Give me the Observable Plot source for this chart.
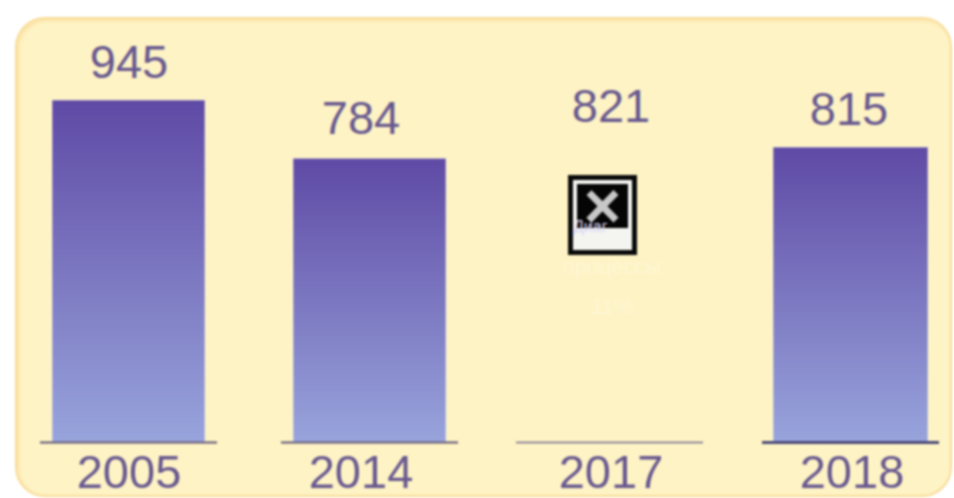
<!DOCTYPE html>
<html><head><meta charset="utf-8">
<script src="https://cdn.jsdelivr.net/npm/d3@7"></script>
<script src="https://cdn.jsdelivr.net/npm/@observablehq/plot@0.6"></script>
<style>
html,body{margin:0;padding:0;background:#fff;overflow:hidden}
#stage{position:relative;width:954px;height:498px;overflow:hidden;filter:blur(.8px)}
#panel{position:absolute;left:15px;top:17px;width:937px;height:480px;box-sizing:border-box;background:#fef3c4;border:2px solid #f9dc98;border-radius:30px;box-shadow:inset 2px 2px 3px #fbe3a6}
#chart{position:absolute;left:0;top:0}
#chart svg{background:transparent}
#icon{position:absolute;left:568px;top:175px;width:69px;height:80px;box-sizing:border-box;background:#0a0a0a;padding:5px}
#icon .in{position:relative;width:59px;height:70px;box-sizing:border-box;background:#f4f4f0;padding:4px 4px 0 4px}
#icon .bk{height:44px;background:#050505;display:flex;align-items:flex-start;justify-content:center;color:#c8c8c8;font:700 64px/44px "Liberation Sans",sans-serif}
#icon .lb{position:absolute;left:0;top:38px;font:16px/18px "Liberation Sans",sans-serif;color:#d8d8f4;white-space:nowrap}
.faint{position:absolute;color:#fef7d6;font:22px "Liberation Sans",sans-serif;text-align:center;width:160px;left:532px}
</style></head><body>
<div id="stage"><div id="panel"></div><div id="chart"></div>
<div class="faint" style="top:254px">процессы</div>
<div class="faint" style="top:294px">11%</div>
<div id="icon"><div class="in"><div class="bk">×</div><div class="lb">Диаг</div></div></div>
</div>
<script>
const years = ["2005","2014","2017","2018"];
const labels = [945,784,821,815];
const bars = [945,784,null,815];
const shifted = ["2014"];

const rows = years.map((year,i)=>({year,label:labels[i],bar:bars[i]}));
const ink = "#67588f";
const font = {fontFamily:"Liberation Sans, Arial, sans-serif"};

const gradient = () => {
  const defs = d3.create("svg:defs");
  const g = defs.append("linearGradient").attr("id","barFill").attr("x1",0).attr("y1",0).attr("x2",0).attr("y2",1);
  g.append("stop").attr("offset","0%").attr("stop-color","#5f4aa5");
  g.append("stop").attr("offset","100%").attr("stop-color","#98a4dc");
  return defs.node();
};

const barStyle = {x:"year",y:"bar",fill:"url(#barFill)",stroke:"#fffbe8",strokeOpacity:.55,strokeWidth:1};

const plot = Plot.plot({
  width:954, height:498,
  marginLeft:51, marginRight:25, marginTop:0, marginBottom:0,
  style:{background:"transparent",...font},
  x:{domain:years,paddingInner:.367,paddingOuter:0,label:null},
  y:{domain:[0,945],range:[442,100],axis:null},
  marks:[
    gradient,
    Plot.barY(rows.filter(d=>d.bar!=null&&d.year!=="2018"),barStyle),
    Plot.barY(rows.filter(d=>d.year==="2018"),{...barStyle,insetLeft:-2}),
    Plot.tickY(rows.filter(d=>d.year==="2005"||d.year==="2014"),{x:"year",y:()=>0,stroke:"#5d5578",strokeWidth:1.8,insetLeft:-12,insetRight:-12}),
    Plot.tickY(rows.filter(d=>d.year==="2017"),{x:"year",y:()=>0,stroke:"#6f6790",strokeWidth:1.5,insetLeft:-18,insetRight:-16}),
    Plot.tickY(rows.filter(d=>d.year==="2018"),{x:"year",y:()=>0,stroke:"#4c4a78",strokeWidth:2.8,insetLeft:-13,insetRight:-11}),
    Plot.text(rows.filter(d=>d.year==="2005"||d.year==="2017"),{x:"year",y:"label",text:d=>String(d.label),dy:-38,fontSize:47,fill:ink,textAnchor:"middle",...font}),
    Plot.text(rows.filter(d=>d.year==="2018"),{x:"year",y:"label",text:d=>String(d.label),dy:-38,dx:-3,fontSize:47,fill:ink,textAnchor:"middle",...font}),
    Plot.text(rows.filter(d=>shifted.includes(d.year)),{x:"year",y:"label",text:d=>String(d.label),dy:-40,dx:-9,fontSize:47,fill:ink,textAnchor:"middle",...font}),
    Plot.axisX({ticks:years.filter(y=>!shifted.includes(y)),anchor:"bottom",tickSize:0,tickPadding:0,dy:-44,label:null,fontSize:47,fill:ink,...font}),
    Plot.axisX({ticks:shifted,anchor:"bottom",tickSize:0,tickPadding:0,dy:-44,dx:-9,label:null,fontSize:47,fill:ink,...font})
  ]
});
document.getElementById("chart").append(plot);
</script></body></html>
